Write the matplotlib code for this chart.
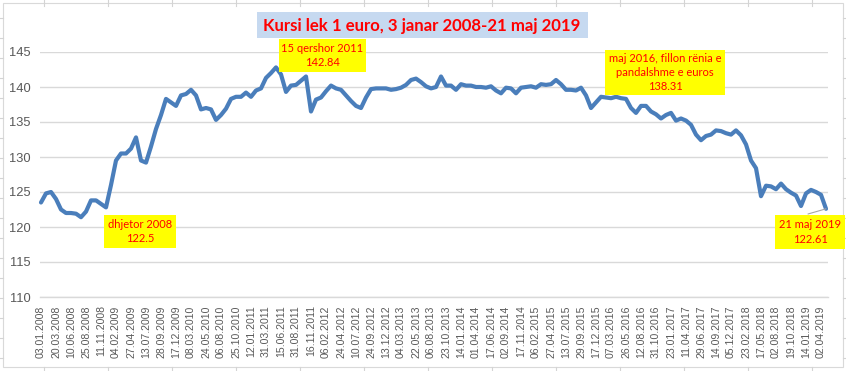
import matplotlib
matplotlib.use("Agg")
import matplotlib.pyplot as plt
from matplotlib.patches import Rectangle
from matplotlib.lines import Line2D

# ---- data (lek per 1 euro, sampled ~every 18 trading days) ----
rate = [
    123.5, 124.8, 125.0, 124.0, 122.5, 122.0, 122.0, 121.9, 121.4, 122.2,
    123.8, 123.8, 123.3, 122.8, 126.0, 129.5, 130.5, 130.5, 131.2, 132.8,
    129.5, 129.2, 131.5, 134.0, 136.0, 138.3, 137.8, 137.3, 138.8, 139.0,
    139.6, 138.8, 136.8, 137.0, 136.8, 135.3, 136.0, 136.9, 138.3, 138.6,
    138.6, 139.2, 138.6, 139.5, 139.8, 141.3, 142.0, 142.8, 141.8, 139.3,
    140.2, 140.3, 140.9, 141.5, 136.5, 138.2, 138.5, 139.4, 140.2, 139.8,
    139.6, 138.8, 138.0, 137.3, 137.0, 138.5, 139.7, 139.8, 139.8, 139.8,
    139.6, 139.7, 139.9, 140.3, 141.0, 141.2, 140.7, 140.1, 139.8, 140.0,
    141.5, 140.2, 140.2, 139.6, 140.4, 140.2, 140.2, 140.0, 140.0, 139.9,
    140.1, 139.5, 139.1, 139.9, 139.8, 139.1, 139.9, 140.0, 140.1, 139.9,
    140.4, 140.3, 140.4, 141.0, 140.4, 139.6, 139.6, 139.5, 139.9, 138.8,
    137.0, 137.8, 138.6, 138.5, 138.4, 138.6, 138.4, 138.3, 137.0, 136.3,
    137.3, 137.3, 136.5, 136.1, 135.5, 136.0, 136.3, 135.2, 135.5, 135.2,
    134.6, 133.2, 132.4, 133.0, 133.2, 133.8, 133.7, 133.4, 133.2, 133.8,
    133.1, 131.8, 129.5, 128.4, 124.4, 125.9, 125.8, 125.4, 126.2, 125.4,
    124.9, 124.5, 123.0, 124.8, 125.3, 125.0, 124.6, 122.6,
]

tick_labels = [
    "03.01.2008", "20.03.2008", "10.06.2008", "25.08.2008", "11.11.2008",
    "04.02.2009", "27.04.2009", "13.07.2009", "28.09.2009", "17.12.2009",
    "08.03.2010", "24.05.2010", "06.08.2010", "25.10.2010", "12.01.2011",
    "31.03.2011", "15.06.2011", "31.08.2011", "16.11.2011", "06.02.2012",
    "24.04.2012", "10.07.2012", "24.09.2012", "13.12.2012", "04.03.2013",
    "22.05.2013", "06.08.2013", "23.10.2013", "14.01.2014", "01.04.2014",
    "17.06.2014", "02.09.2014", "17.11.2014", "06.02.2015", "27.04.2015",
    "13.07.2015", "29.09.2015", "17.12.2015", "07.03.2016", "26.05.2016",
    "12.08.2016", "31.10.2016", "23.01.2017", "11.04.2017", "29.06.2017",
    "14.09.2017", "05.12.2017", "23.02.2018", "17.05.2018", "02.08.2018",
    "19.10.2018", "14.01.2019", "02.04.2019",
]
samples_per_label = 3

title = "Kursi lek 1 euro, 3 janar 2008-21 maj 2019"
notes = [
    "dhjetor 2008\n122.5",
    "15 qershor 2011\n142.84",
    "maj 2016, fillon rënia e\npandalshme e euros\n138.31",
    "21 maj 2019\n122.61",
]

# ---- figure ----
W, H = 846, 371
fig = plt.figure(figsize=(W / 100, H / 100), dpi=100)
fig.patch.set_facecolor("white")


def fx(px):
    return px / W


def fy(py):
    return 1 - py / H


# spreadsheet cell-border stubs around the chart area
cell_col = "#d4d4d4"
for xc in range(44, W, 64):
    fig.add_artist(Line2D([fx(xc), fx(xc)], [fy(0), fy(6)], color=cell_col, lw=0.8))
    fig.add_artist(Line2D([fx(xc), fx(xc)], [fy(367), fy(371)], color=cell_col, lw=0.8))
for yc in range(18, H, 20):
    fig.add_artist(Line2D([fx(0), fx(3)], [fy(yc), fy(yc)], color=cell_col, lw=0.8))
    fig.add_artist(Line2D([fx(843), fx(846)], [fy(yc), fy(yc)], color=cell_col, lw=0.8))
fig.add_artist(Rectangle((fx(3), fy(367)), fx(840), (364) / H, transform=fig.transFigure,
                         fill=False, ec="#d9d9d9", lw=0.8))

ax = fig.add_axes([fx(40), fy(297), fx(788), (297 - 52) / H])
ax.set_facecolor("white")

x = list(range(len(rate)))
ax.plot(x, rate, color="#4a7ebb", lw=3.0, solid_joinstyle="round", solid_capstyle="round",
        zorder=3, clip_on=False)

ax.set_xlim(-0.2, 157.4)
ax.set_ylim(110, 145)
ax.set_yticks(list(range(110, 146, 5)))
ax.yaxis.grid(True, color="#d9d9d9", lw=1.0)
ax.set_axisbelow(True)
for s in ["top", "right", "left"]:
    ax.spines[s].set_visible(False)
ax.spines["bottom"].set_color("#d9d9d9")
ax.spines["bottom"].set_linewidth(1.0)

ax.set_xticks([samples_per_label * k for k in range(len(tick_labels))])
ax.set_xticklabels(tick_labels, rotation=90, fontfamily="Liberation Sans")
ax.tick_params(axis="x", length=0, labelsize=7.6, labelcolor="#595959", pad=6)
ax.tick_params(axis="y", length=0, labelsize=9.3, labelcolor="#595959", pad=7)
for t in ax.get_yticklabels():
    t.set_fontfamily("Liberation Sans")

# ---- title ----
fig.add_artist(Rectangle((fx(257), fy(38)), fx(331), 26 / H, transform=fig.transFigure,
                         fc="#c6d9f0", ec="none"))
fig.text(fx(422), fy(25.5), title, ha="center", va="center", color="#ff0000",
         fontsize=12.1, fontweight="bold", fontfamily="Lato")

# ---- annotation boxes ----
boxes = [
    (104, 215, 176, 248),
    (279, 39, 366, 72),
    (605, 50, 725, 95),
    (775, 215, 845, 249),
]
for (x0, y0, x1, y1), txt in zip(boxes, notes):
    fig.add_artist(Rectangle((fx(x0), fy(y1)), fx(x1 - x0), (y1 - y0) / H,
                             transform=fig.transFigure, fc="#ffff00", ec="none", zorder=4))
    fig.text(fx((x0 + x1) / 2), fy((y0 + y1) / 2), txt, ha="center", va="center",
             color="#ff0000", fontsize=8.0, fontfamily="Lato", linespacing=1.35, zorder=5)

# leader line for the last value
ax.annotate("", xy=(x[-1], rate[-1]), xytext=(fx(808), fy(214)),
            textcoords="figure fraction",
            arrowprops=dict(arrowstyle="-", color="#a6a6a6", lw=0.8,
                            shrinkA=0, shrinkB=0), annotation_clip=False)

fig.savefig("out.png", dpi=100, facecolor="white")
